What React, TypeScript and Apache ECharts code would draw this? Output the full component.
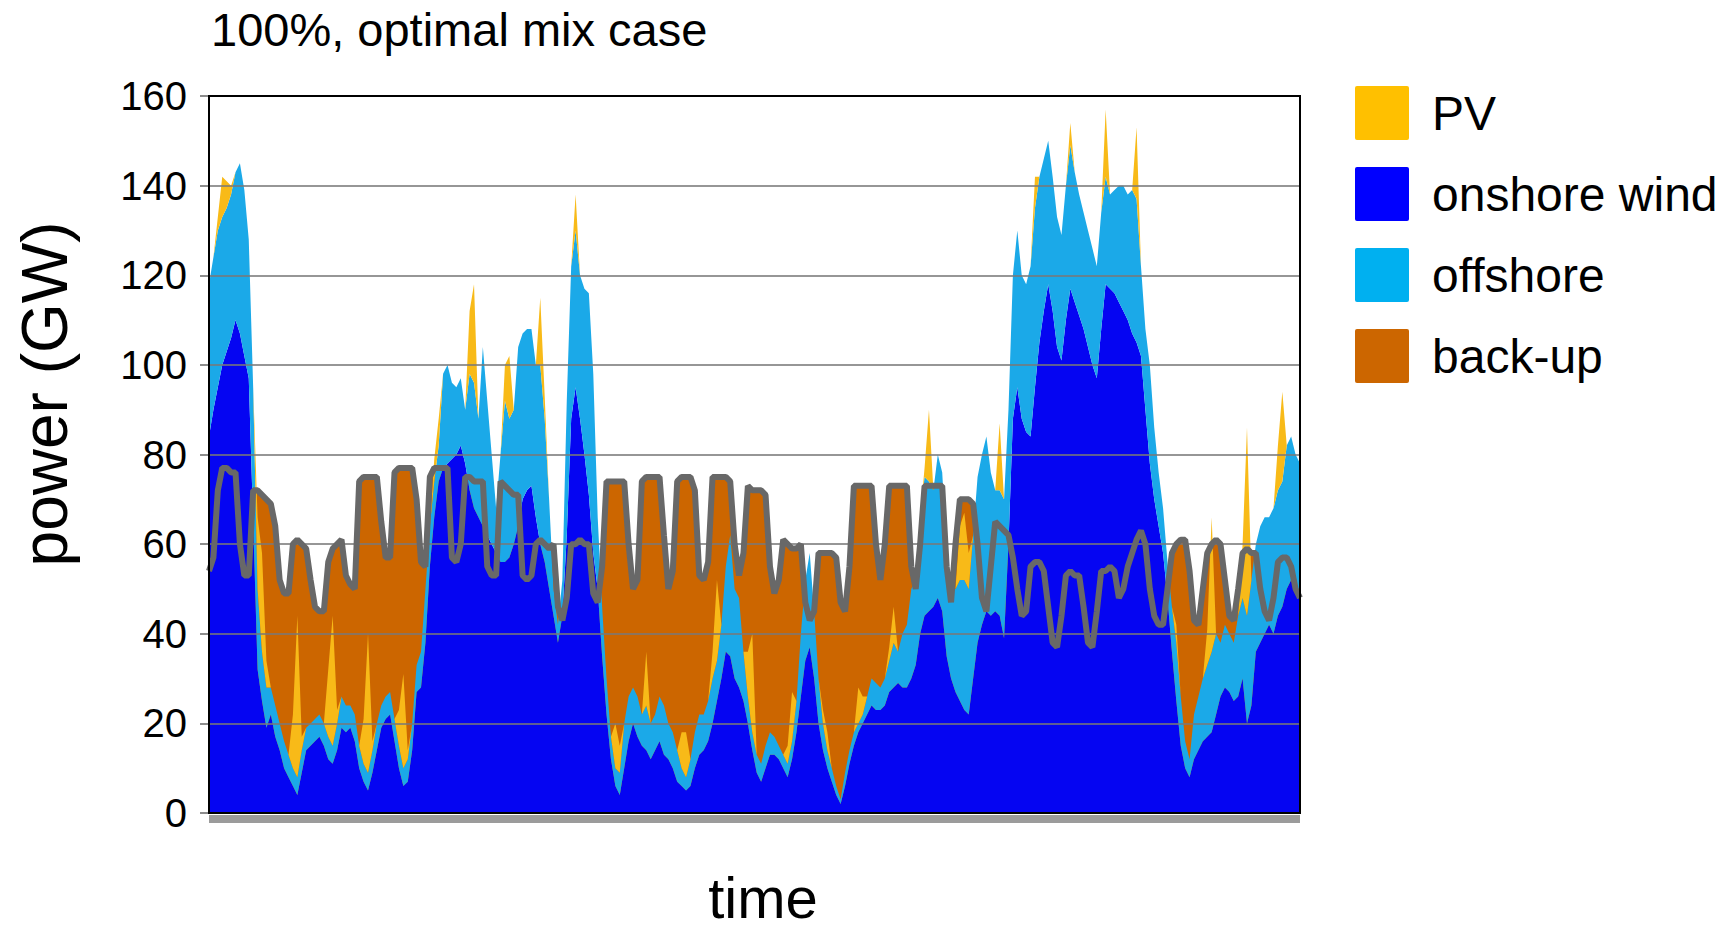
import React, { useEffect, useRef } from "react";
import * as echarts from "echarts";

// Three-hourly samples (8 per day) over 31 days, in GW.
const onshoreWind = [
  84, 90, 95, 100, 103, 106, 110, 107,
  102, 97, 65, 32, 25, 19, 22, 17,
  14, 10, 8, 6, 4, 9, 14, 15,
  16, 17, 15, 12, 11, 14, 19, 18,
  19, 16, 10, 7, 5, 9, 14, 19,
  21, 22, 16, 10, 6, 7, 14, 27,
  28, 38, 55, 66, 74, 77, 78, 79,
  80, 82, 78, 72, 68, 66, 64, 62,
  60, 58, 56, 56, 57, 60, 64, 70,
  72, 73, 66, 60, 56, 50, 44, 38,
  44, 62, 88, 95, 88, 80, 71, 58,
  50, 35, 22, 12, 6, 4, 10, 16,
  20, 17, 15, 14, 12, 14, 16, 13,
  12, 10, 7, 6, 5, 6, 10, 13,
  14, 16, 20, 25, 30, 36, 35, 30,
  28, 25, 20, 14, 9, 7, 10, 13,
  13, 12, 10, 8, 12, 18, 26, 34,
  37, 30, 20, 14, 10, 7, 4, 2,
  6, 11, 15, 18, 20, 22, 24, 23,
  23, 24, 27, 28, 29, 28, 28, 30,
  33, 40, 44, 45, 46, 48, 45, 35,
  30, 27, 25, 23, 22, 30, 38, 42,
  45, 44, 45, 44, 39, 60, 88, 95,
  88, 85, 84, 95, 105, 112, 118, 112,
  104, 101, 110, 117, 114, 111, 108, 104,
  100, 97, 108, 118, 117, 116, 114, 112,
  110, 107, 105, 102, 90, 78, 70, 64,
  58, 48, 36, 25, 15, 10, 8, 12,
  14, 16, 17, 18, 22, 26, 28, 27,
  25, 26, 30, 20, 24, 36, 38, 40,
  42, 40, 44, 46, 50, 52, 50, 48,
];

const offshoreWind = [
  34, 34, 35, 33, 32, 32, 33, 38,
  37, 31, 30, 18, 11, 9, 6, 7,
  6, 6, 5, 4, 4, 5, 5, 5,
  5, 5, 5, 5, 4, 6, 7, 6,
  5, 6, 5, 4, 4, 5, 6, 5,
  5, 5, 5, 5, 4, 5, 6, 6,
  8, 12, 9, 8, 8, 21, 22, 17,
  15, 15, 12, 26, 28, 22, 40, 30,
  20, 10, 24, 36, 31, 30, 40, 37,
  36, 35, 34, 40, 32, 20, 6, 4,
  8, 30, 34, 35, 32, 37, 45, 40,
  16, 11, 8, 5, 4, 5, 10, 10,
  8, 9, 7, 10, 8, 8, 10, 11,
  8, 8, 7, 4, 3, 6, 8, 9,
  8, 9, 10, 9, 12, 19, 27, 20,
  20, 11, 6, 4, 4, 4, 5, 5,
  4, 3, 3, 3, 4, 7, 14, 18,
  21, 15, 10, 6, 4, 3, 2, 1,
  3, 3, 3, 2, 2, 4, 6, 6,
  5, 6, 7, 10, 7, 12, 14, 20,
  19, 26, 31, 29, 26, 32, 31, 23,
  20, 23, 27, 29, 28, 32, 37, 38,
  39, 32, 27, 28, 31, 30, 32, 35,
  32, 33, 38, 40, 37, 34, 32, 30,
  29, 28, 30, 32, 29, 27, 26, 26,
  26, 25, 26, 24, 21, 23, 26, 28,
  28, 32, 32, 20, 18, 22, 16, 12,
  10, 8, 10, 13, 11, 6, 4, 10,
  12, 14, 16, 18, 18, 12, 14, 13,
  13, 18, 18, 24, 28, 24, 26, 26,
  24, 28, 28, 28, 32, 32, 30, 30,
];

const solarPV = [
  0, 0, 3, 9, 6, 2, 0, 0,
  0, 0, 0, 16, 22, 6, 0, 0,
  0, 0, 0, 12, 36, 3, 0, 0,
  0, 0, 0, 15, 29, 3, 0, 0,
  0, 0, 0, 10, 31, 2, 0, 0,
  0, 0, 0, 8, 21, 2, 0, 0,
  0, 0, 0, 5, 6, 0, 0, 0,
  0, 0, 0, 14, 22, 0, 0, 0,
  0, 0, 0, 8, 14, 0, 0, 0,
  0, 0, 0, 15, 5, 0, 0, 0,
  0, 0, 0, 8, 0, 0, 0, 0,
  0, 0, 0, 0, 10, 6, 0, 0,
  0, 0, 0, 12, 0, 0, 0, 0,
  0, 0, 0, 8, 10, 0, 0, 0,
  0, 0, 6, 18, 0, 0, 0, 0,
  0, 0, 10, 22, 0, 0, 0, 0,
  0, 0, 0, 4, 11, 0, 0, 0,
  0, 0, 0, 3, 4, 0, 0, 0,
  0, 0, 0, 8, 4, 0, 0, 0,
  0, 0, 3, 8, 0, 0, 0, 0,
  0, 0, 2, 16, 0, 0, 0, 0,
  0, 0, 12, 15, 8, 0, 0, 0,
  0, 0, 0, 15, 0, 0, 0, 0,
  0, 0, 0, 7, 0, 0, 0, 0,
  0, 0, 0, 5, 0, 0, 0, 0,
  0, 0, 0, 15, 0, 0, 0, 0,
  0, 0, 16, 0, 0, 0, 0, 0,
  0, 0, 0, 4, 0, 0, 0, 0,
  0, 0, 8, 30, 0, 0, 0, 0,
  0, 0, 12, 42, 0, 0, 0, 0,
  0, 0, 10, 20, 0, 0, 0, 0,
];

// Load to be covered; whatever the renewables leave uncovered is back-up.
const demand = [
  54, 57, 72, 77, 77, 76, 76, 60,
  53, 53, 72, 72, 71, 70, 69, 64,
  52, 49, 49, 60, 61, 60, 59, 52,
  46, 45, 45, 56, 59, 60, 61, 53,
  51, 50, 74, 75, 75, 75, 75, 65,
  57, 57, 76, 77, 77, 77, 77, 70,
  56, 55, 75, 77, 77, 77, 77, 57,
  56, 60, 75, 75, 74, 74, 74, 55,
  53, 53, 74, 73, 72, 71, 71, 53,
  52, 53, 60, 61, 60, 59, 60, 46,
  43, 48, 60, 60, 61, 60, 60, 49,
  47, 55, 74, 74, 74, 74, 74, 60,
  50, 52, 74, 75, 75, 75, 75, 62,
  50, 54, 74, 75, 75, 75, 72, 53,
  52, 56, 75, 75, 75, 75, 74, 60,
  53, 58, 73, 72, 72, 72, 71, 55,
  49, 52, 61, 60, 59, 59, 60, 47,
  43, 45, 58, 58, 58, 58, 57, 47,
  45, 55, 73, 73, 73, 73, 73, 60,
  52, 60, 73, 73, 73, 73, 73, 55,
  50, 60, 73, 73, 73, 73, 73, 55,
  47, 60, 70, 70, 70, 69, 60, 48,
  45, 55, 65, 64, 63, 62, 57, 50,
  44, 45, 55, 56, 56, 54, 46, 38,
  37, 44, 53, 54, 53, 53, 46, 38,
  37, 45, 54, 54, 55, 54, 48, 50,
  55, 58, 61, 63, 60, 50, 44, 42,
  42, 50, 58, 60, 61, 61, 54, 43,
  42, 50, 58, 60, 61, 60, 52, 44,
  43, 50, 58, 59, 58, 58, 50, 45,
  43, 48, 56, 57, 57, 55, 50, 48,
];

const timeSteps = demand.map((_, i) => String(i * 3));

const yTicks = { min: 0, max: 160, interval: 20 };

const legendItems = [
  { name: "PV", color: "#FFC000" },
  { name: "onshore wind", color: "#0000FF" },
  { name: "offshore", color: "#00B0F0" },
  { name: "back-up", color: "#CC6600" },
];

const FONT = "'Liberation Sans', Arial, Helvetica, sans-serif";

const GRID = { left: 209, top: 96, width: 1091, height: 717 };

// Square swatch with slightly softened corners
const SWATCH =
  "path://M2,0 L52,0 Q54,0 54,2 L54,52 Q54,54 52,54 L2,54 Q0,54 0,52 L0,2 Q0,0 2,0 Z";

function areaSeries(name: string, data: number[], color: string, stack?: string) {
  return {
    name,
    type: "line",
    data,
    stack,
    symbol: "none",
    showSymbol: false,
    smooth: false,
    lineStyle: { width: 0, opacity: 0 },
    itemStyle: { color },
    areaStyle: { color, opacity: 1 },
    emphasis: { disabled: true },
    z: 2,
  };
}

export default function App() {
  const ref = useRef<HTMLDivElement>(null);

  useEffect(() => {
    if (!ref.current) return;
    const chart = echarts.init(ref.current, undefined, { renderer: "svg" });

    const option = {
      animation: false,
      backgroundColor: "#ffffff",
      grid: { ...GRID, containLabel: false },
      xAxis: {
        type: "category",
        data: timeSteps,
        boundaryGap: false,
        offset: 6,
        axisLine: {
          show: true,
          onZero: false,
          lineStyle: { color: "#9b9b9b", width: 8, cap: "butt" },
        },
        axisTick: { show: false },
        axisLabel: { show: false },
        splitLine: { show: false },
      },
      yAxis: {
        type: "value",
        min: yTicks.min,
        max: yTicks.max,
        interval: yTicks.interval,
        z: 3,
        axisLine: { show: false },
        axisTick: { show: true, length: 9, lineStyle: { color: "#8c8c8c", width: 2 } },
        splitLine: { show: true, lineStyle: { color: "rgba(120,120,120,0.78)", width: 2 } },
        axisLabel: {
          color: "#000",
          fontSize: 40,
          fontFamily: FONT,
          margin: 22,
          padding: [10, 0, 0, 0],
        },
      },
      legend: {
        orient: "vertical",
        left: 1350,
        top: 81,
        itemWidth: 54,
        itemHeight: 54,
        itemGap: 27,
        icon: SWATCH,
        selectedMode: false,
        textStyle: { fontSize: 48, color: "#000", fontFamily: FONT, padding: [0, 0, 0, 18] },
        data: legendItems.map((d) => ({ name: d.name, itemStyle: { color: d.color } })),
      },
      graphic: [
        {
          type: "text",
          x: 211,
          y: 29,
          style: {
            text: "100%, optimal mix case",
            fontSize: 47,
            fontFamily: FONT,
            fill: "#000",
            align: "left",
            verticalAlign: "middle",
          },
        },
        {
          type: "text",
          x: 45,
          y: 394,
          rotation: Math.PI / 2,
          style: {
            text: "power (GW)",
            fontSize: 64,
            fontFamily: FONT,
            fill: "#000",
            align: "center",
            verticalAlign: "middle",
          },
        },
        {
          type: "text",
          x: 763,
          y: 897,
          style: {
            text: "time",
            fontSize: 58,
            lineHeight: 58,
            fontFamily: FONT,
            fill: "#000",
            align: "center",
            verticalAlign: "middle",
          },
        },
        {
          type: "rect",
          z: 100,
          silent: true,
          shape: { x: GRID.left, y: GRID.top, width: GRID.width, height: GRID.height },
          style: { fill: "none", stroke: "#000", lineWidth: 2 },
        },
      ],
      series: [
        areaSeries("back-up", demand, "#CC6600"),
        areaSeries("onshore wind", onshoreWind, "#0505F2", "supply"),
        areaSeries("offshore", offshoreWind, "#1BA9E8", "supply"),
        areaSeries("PV", solarPV, "#F8BA18", "supply"),
        {
          name: "demand",
          type: "line",
          data: demand,
          symbol: "none",
          showSymbol: false,
          lineStyle: { color: "#686868", width: 6 },
          itemStyle: { color: "#686868" },
          emphasis: { disabled: true },
          z: 10,
        },
      ],
    };

    chart.setOption(option);
    return () => chart.dispose();
  }, []);

  return (
    <div
      ref={ref}
      style={{ position: "fixed", left: 0, top: 0, width: 1731, height: 932, background: "#fff" }}
    />
  );
}
